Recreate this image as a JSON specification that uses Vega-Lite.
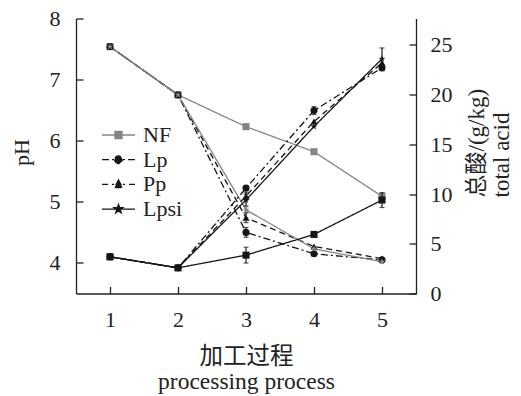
{
  "$schema": "https://vega.github.io/schema/vega-lite/v6.json",
  "width": 340,
  "height": 275,
  "autosize": {"type": "none"},
  "padding": {"left": 76, "top": 18.5, "right": 105, "bottom": 102.5},
  "background": "white",
  "config": {
    "view": {"stroke": null},
    "font": "Liberation Serif, Noto Sans CJK SC",
    "axis": {
      "grid": false,
      "domainColor": "#222",
      "tickColor": "#222",
      "labelColor": "#222",
      "titleColor": "#222",
      "labelFont": "Liberation Serif, Noto Sans CJK SC",
      "titleFont": "Liberation Serif, Noto Sans CJK SC",
      "labelFontSize": 22,
      "titleFontSize": 22,
      "titleFontWeight": "normal",
      "tickSize": -7,
      "domainWidth": 1.3,
      "tickWidth": 1.3
    },
    "legend": {
      "labelFont": "Liberation Serif, Noto Sans CJK SC",
      "labelFontSize": 22,
      "labelColor": "#222",
      "padding": 0
    }
  },
  "data": {
    "values": [
      {"step": 1, "group": "NF", "measure": "pH", "value": 7.54, "err": 0.04},
      {"step": 2, "group": "NF", "measure": "pH", "value": 6.75, "err": 0},
      {"step": 3, "group": "NF", "measure": "pH", "value": 6.23, "err": 0},
      {"step": 4, "group": "NF", "measure": "pH", "value": 5.82, "err": 0},
      {"step": 5, "group": "NF", "measure": "pH", "value": 5.09, "err": 0},
      {"step": 1, "group": "Lp", "measure": "pH", "value": 7.54, "err": 0},
      {"step": 2, "group": "Lp", "measure": "pH", "value": 6.75, "err": 0},
      {"step": 3, "group": "Lp", "measure": "pH", "value": 4.5, "err": 0.08},
      {"step": 4, "group": "Lp", "measure": "pH", "value": 4.15, "err": 0},
      {"step": 5, "group": "Lp", "measure": "pH", "value": 4.05, "err": 0},
      {"step": 1, "group": "Pp", "measure": "pH", "value": 7.54, "err": 0},
      {"step": 2, "group": "Pp", "measure": "pH", "value": 6.75, "err": 0},
      {"step": 3, "group": "Pp", "measure": "pH", "value": 4.74, "err": 0.08},
      {"step": 4, "group": "Pp", "measure": "pH", "value": 4.27, "err": 0},
      {"step": 5, "group": "Pp", "measure": "pH", "value": 4.07, "err": 0},
      {"step": 1, "group": "Lpsi", "measure": "pH", "value": 7.54, "err": 0},
      {"step": 2, "group": "Lpsi", "measure": "pH", "value": 6.75, "err": 0},
      {"step": 3, "group": "Lpsi", "measure": "pH", "value": 4.87, "err": 0.05},
      {"step": 4, "group": "Lpsi", "measure": "pH", "value": 4.23, "err": 0},
      {"step": 5, "group": "Lpsi", "measure": "pH", "value": 4.02, "err": 0},
      {"step": 1, "group": "NF", "measure": "acid", "value": 3.69, "err": 0.3},
      {"step": 2, "group": "NF", "measure": "acid", "value": 2.58, "err": 0},
      {"step": 3, "group": "NF", "measure": "acid", "value": 3.86, "err": 0.8},
      {"step": 4, "group": "NF", "measure": "acid", "value": 5.94, "err": 0.2},
      {"step": 5, "group": "NF", "measure": "acid", "value": 9.4, "err": 0.75},
      {"step": 1, "group": "Lp", "measure": "acid", "value": 3.69, "err": 0},
      {"step": 2, "group": "Lp", "measure": "acid", "value": 2.58, "err": 0},
      {"step": 3, "group": "Lp", "measure": "acid", "value": 10.6, "err": 0.2},
      {"step": 4, "group": "Lp", "measure": "acid", "value": 18.4, "err": 0.4},
      {"step": 5, "group": "Lp", "measure": "acid", "value": 22.7, "err": 0.3},
      {"step": 1, "group": "Pp", "measure": "acid", "value": 3.69, "err": 0},
      {"step": 2, "group": "Pp", "measure": "acid", "value": 2.58, "err": 0},
      {"step": 3, "group": "Pp", "measure": "acid", "value": 9.8, "err": 0.4},
      {"step": 4, "group": "Pp", "measure": "acid", "value": 17.3, "err": 0},
      {"step": 5, "group": "Pp", "measure": "acid", "value": 23.2, "err": 0},
      {"step": 1, "group": "Lpsi", "measure": "acid", "value": 3.69, "err": 0},
      {"step": 2, "group": "Lpsi", "measure": "acid", "value": 2.58, "err": 0},
      {"step": 3, "group": "Lpsi", "measure": "acid", "value": 9.4, "err": 0.6},
      {"step": 4, "group": "Lpsi", "measure": "acid", "value": 16.8, "err": 0},
      {"step": 5, "group": "Lpsi", "measure": "acid", "value": 23.6, "err": 1.1}
    ]
  },
  "layer": [
    {
      "transform": [{"filter": "datum.measure === 'pH'"}],
      "encoding": {
        "x": {
          "field": "step", "type": "quantitative",
          "scale": {"domain": [0.5, 5.5], "nice": false, "zero": false},
          "axis": {
            "values": [1, 2, 3, 4, 5],
            "format": "d",
            "labelPadding": 22.5,
            "title": ["加工过程", "processing process"],
            "titleFontSize": 23.5,
            "titleAnchor": "middle",
            "titleAlign": "center",
            "titleBaseline": "alphabetic",
            "titleX": 170,
            "titleY": 70,
            "titleLineHeight": 25
          }
        },
        "y": {
          "field": "value", "type": "quantitative",
          "scale": {"domain": [3.5, 8], "nice": false, "zero": false},
          "axis": {
            "orient": "left",
            "values": [4, 5, 6, 7, 8],
            "format": "d",
            "labelPadding": 23,
            "title": "pH",
            "titleAngle": 270,
            "titleAlign": "center",
            "titleBaseline": "alphabetic",
            "titleX": -48,
            "titleY": 133.5
          }
        },
        "color": {
          "field": "group", "type": "nominal",
          "scale": {"domain": ["NF", "Lp", "Pp", "Lpsi"], "range": ["#858585", "#161616", "#161616", "#858585"]},
          "legend": null
        }
      },
      "layer": [
        {
          "mark": {"type": "line", "strokeWidth": 1.3},
          "encoding": {
            "strokeDash": {
              "field": "group", "type": "nominal",
              "sort": ["NF", "Lp", "Pp", "Lpsi"],
              "scale": {"range": [[1, 0], [7, 3, 2, 3], [6, 4], [1, 0]]},
              "legend": {
                "orient": "none", "legendX": 31.5, "legendY": 105.5, "title": null,
                "symbolType": "stroke", "symbolSize": 121, "symbolStrokeWidth": 1.3,
                "labelOffset": 13.5, "rowPadding": 2.7,
                "encode": {"symbols": {"update": {
                  "shape": {"signal": "datum.label === 'NF' ? 'M-3,0L3,0M-0.64,-0.64L0.64,-0.64L0.64,0.64L-0.64,0.64Z' : datum.label === 'Lp' ? 'M-3,0L-0.7,0M3,0L0.7,0M-0.69,0A0.69,0.69 0 1,0 0.69,0A0.69,0.69 0 1,0 -0.69,0Z' : datum.label === 'Pp' ? 'M-3,0L-0.8,0M3,0L0.8,0M0,-0.8L0.75,0.6L-0.75,0.6Z' : 'M-3,0L3,0M0,-0.85L0.2,-0.275L0.81,-0.263L0.323,0.105L0.5,0.688L0,0.34L-0.5,0.688L-0.323,0.105L-0.81,-0.263L-0.2,-0.275Z'"},
                  "stroke": {"signal": "datum.label === 'NF' ? '#858585' : '#161616'"},
                  "fill": {"signal": "datum.label === 'NF' ? '#858585' : '#161616'"},
                  "strokeWidth": {"value": 1.3},
                  "strokeOpacity": {"value": 1},
                  "size": {"value": 121},
                  "opacity": {"value": 1}
                }}}
              }
            }
          }
        },
        {
          "transform": [{"filter": "datum.err > 0"}],
          "mark": {"type": "errorbar", "ticks": true, "thickness": 1.2},
          "encoding": {"yError": {"field": "err"}}
        },
        {
          "mark": {"type": "point", "filled": true, "size": 50, "opacity": 1},
          "encoding": {
            "shape": {
              "field": "group", "type": "nominal",
              "scale": {"domain": ["NF", "Lp", "Pp", "Lpsi"], "range": ["square", "circle", "triangle-up", "M0,-1L0.235,-0.324L0.951,-0.309L0.380,0.124L0.588,0.809L0,0.4L-0.588,0.809L-0.380,0.124L-0.951,-0.309L-0.235,-0.324Z"]},
              "legend": null
            }
          }
        }
      ]
    },
    {
      "transform": [{"filter": "datum.measure === 'acid'"}],
      "encoding": {
        "x": {"field": "step", "type": "quantitative"},
        "y": {
          "field": "value", "type": "quantitative",
          "scale": {"domain": [0, 27.66], "nice": false, "zero": false},
          "axis": {
            "orient": "right",
            "values": [0, 5, 10, 15, 20, 25],
            "format": "d",
            "labelPadding": 21,
            "title": ["总酸/(g/kg)", "total acid"],
            "titleFontSize": 23,
            "titleAngle": 270,
            "titleAlign": "left",
            "titleBaseline": "alphabetic",
            "titleX": 67,
            "titleY": 178.5,
            "titleLineHeight": 25
          }
        },
        "color": {
          "field": "group", "type": "nominal",
          "scale": {"domain": ["NF", "Lp", "Pp", "Lpsi"], "range": ["#161616", "#161616", "#161616", "#161616"]},
          "legend": null
        }
      },
      "layer": [
        {
          "mark": {"type": "line", "strokeWidth": 1.3},
          "encoding": {
            "strokeDash": {"field": "group", "type": "nominal", "sort": ["NF", "Lp", "Pp", "Lpsi"]}
          }
        },
        {
          "transform": [{"filter": "datum.err > 0"}],
          "mark": {"type": "errorbar", "ticks": true, "thickness": 1.2},
          "encoding": {"yError": {"field": "err"}}
        },
        {
          "mark": {"type": "point", "filled": true, "size": 50, "opacity": 1},
          "encoding": {"shape": {"field": "group", "type": "nominal"}}
        }
      ]
    }
  ],
  "resolve": {"scale": {"y": "independent", "color": "independent"}}
}
